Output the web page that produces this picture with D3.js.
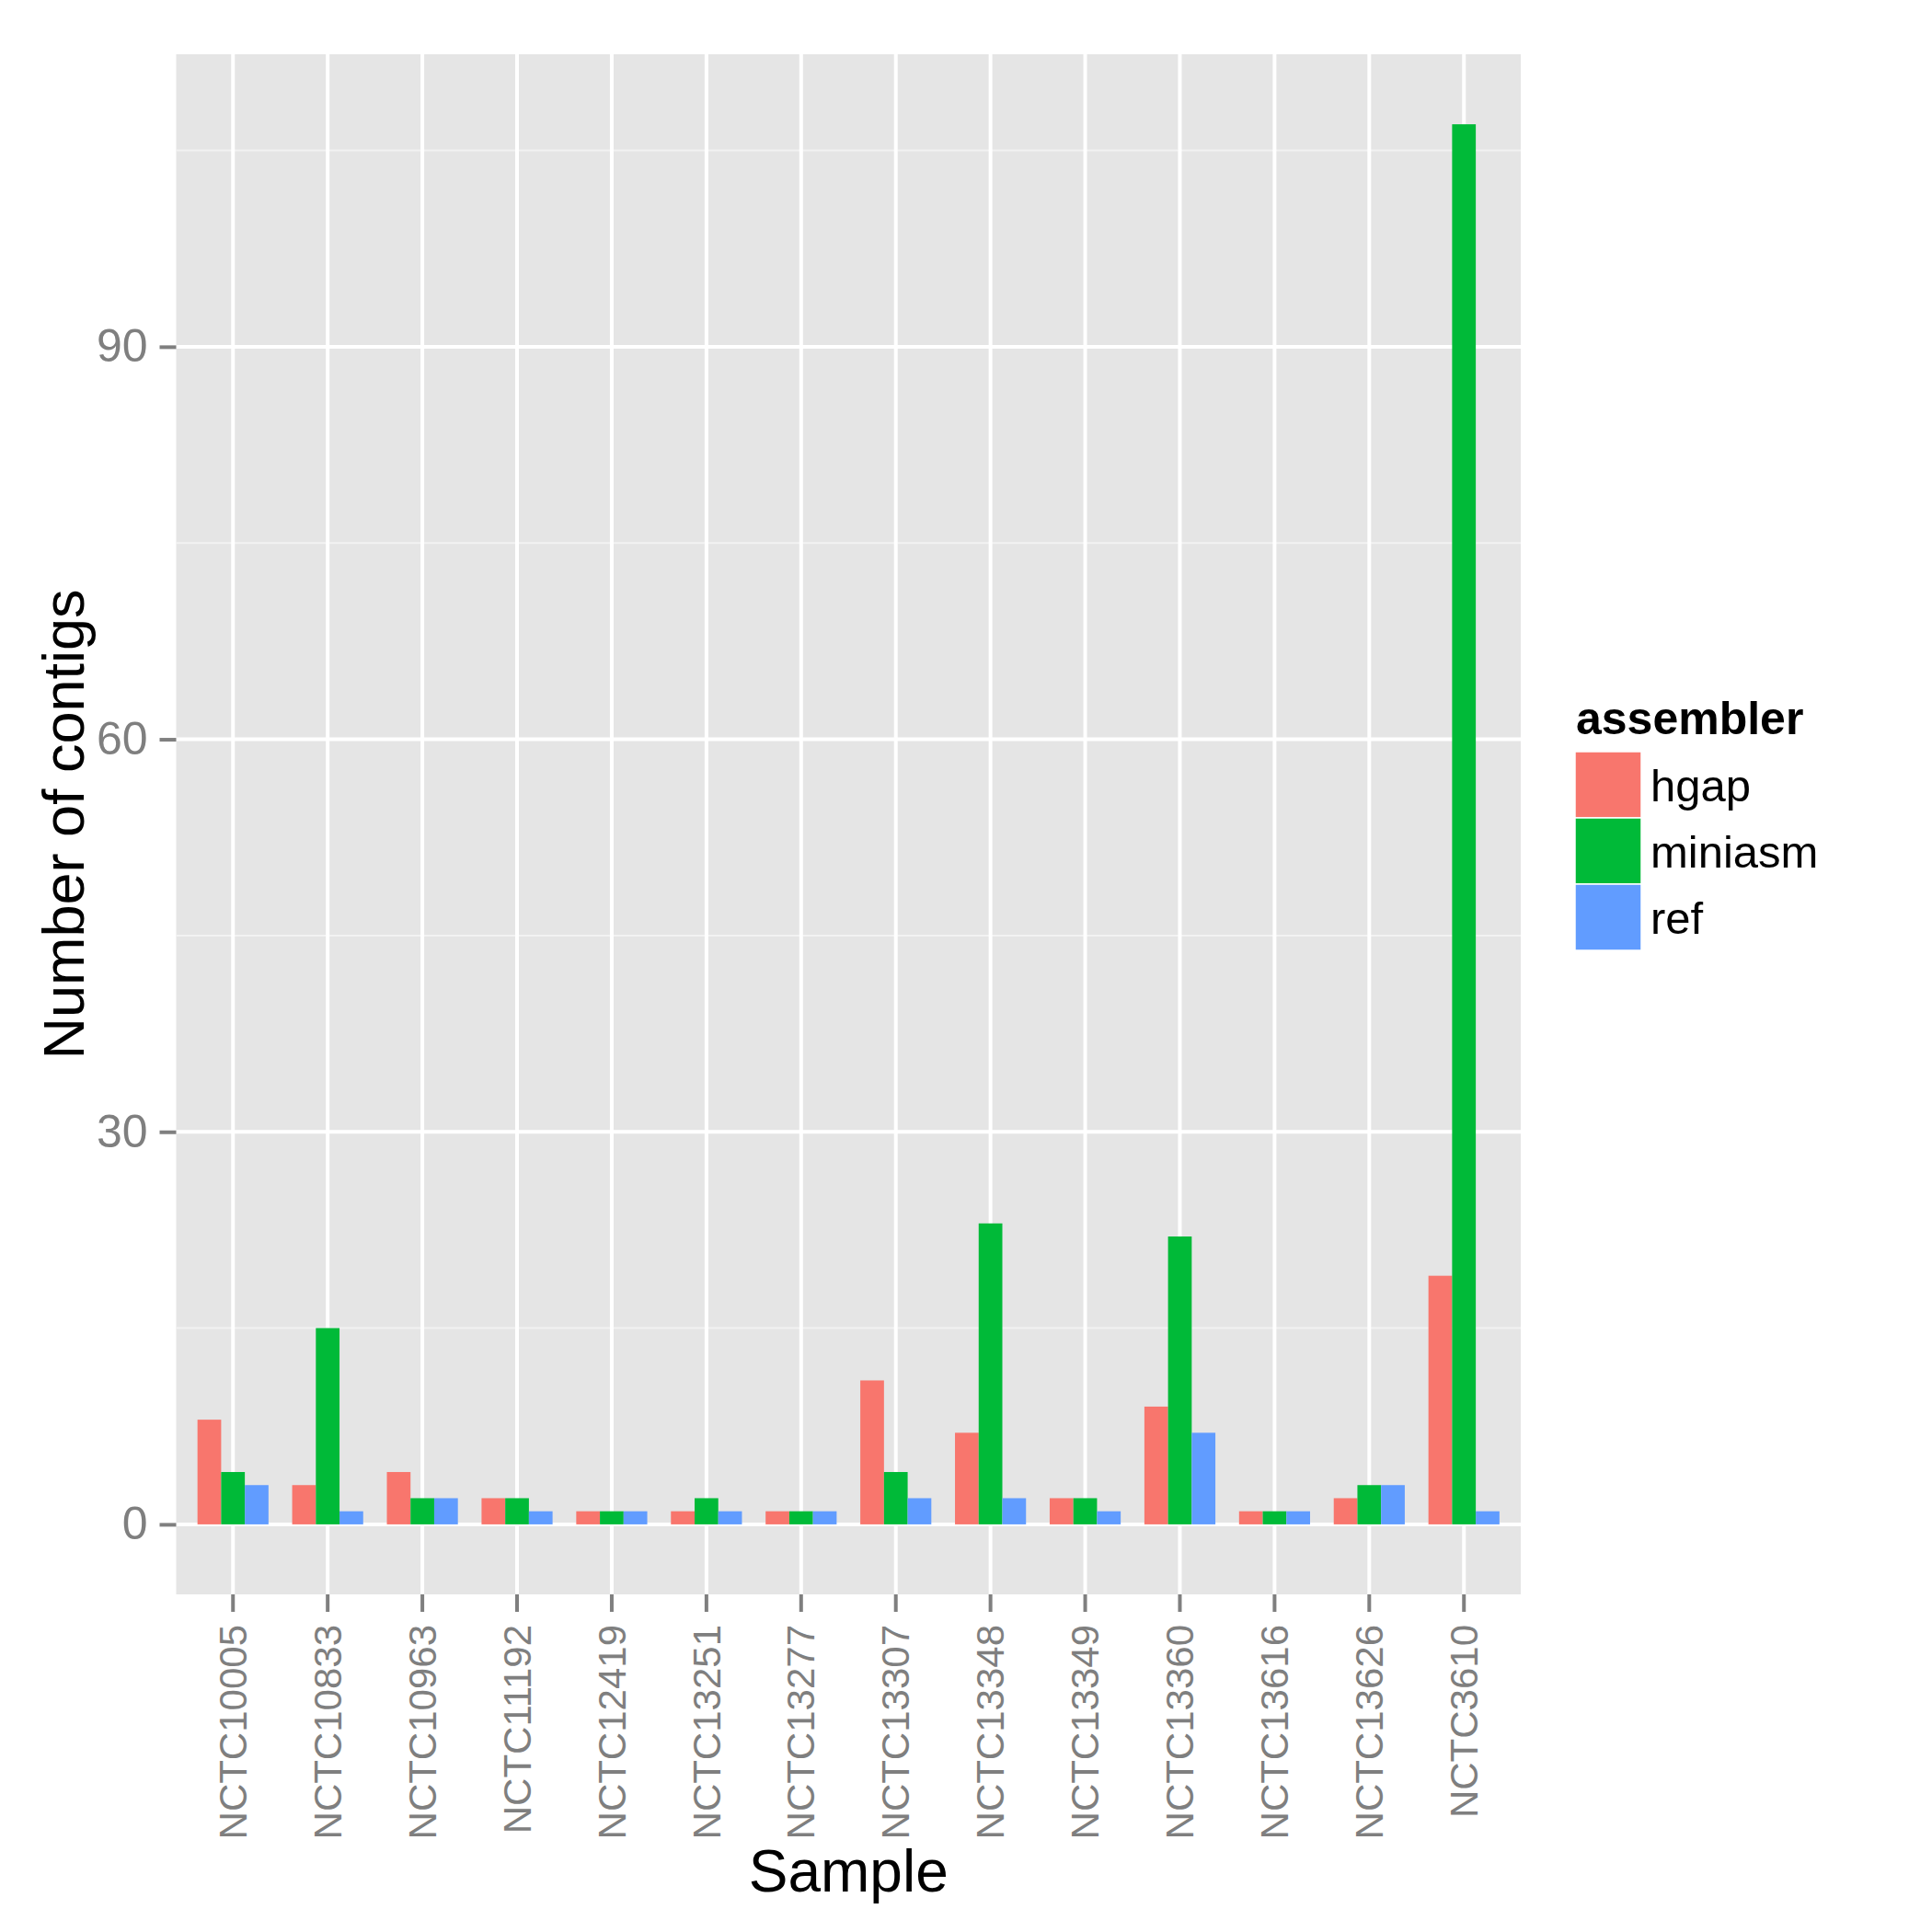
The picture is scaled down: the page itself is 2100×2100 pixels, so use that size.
<!DOCTYPE html>
<html>
<head>
<meta charset="utf-8">
<script src="https://cdn.jsdelivr.net/npm/d3@7"></script>
<style>
  body { margin: 0; background: #ffffff; }
  svg text { font-family: 'Liberation Sans', Arial, Helvetica, sans-serif; }
</style>
</head>
<body>
<div id="chart"></div>
<script>
// samples on the x axis
var samples = ['NCTC10005', 'NCTC10833', 'NCTC10963', 'NCTC11192', 'NCTC12419',
  'NCTC13251', 'NCTC13277', 'NCTC13307', 'NCTC13348', 'NCTC13349',
  'NCTC13360', 'NCTC13616', 'NCTC13626', 'NCTC3610'];

// assemblers (fill groups)
var assemblers = ['hgap', 'miniasm', 'ref'];
var colors = ['#F8766D', '#00BA38', '#619CFF'];

// number of contigs per sample, one array per assembler
var hgap =    [8, 3, 4, 2, 1, 1, 1, 11, 7, 2, 9, 1, 2, 19];
var miniasm = [4, 15, 2, 2, 1, 2, 1, 4, 23, 2, 22, 1, 3, 107];
var ref =     [3, 1, 2, 1, 1, 1, 1, 2, 2, 1, 7, 1, 3, 1];

var yTicks = [0, 30, 60, 90];
var yMinor = [15, 45, 75, 105];

var W = 2100, H = 2100;
var panel = { left: 191.5, right: 1653, top: 59, bottom: 1733 };

var series = { hgap: hgap, miniasm: miniasm, ref: ref };
var data = [];
samples.forEach(function (s, i) {
  assemblers.forEach(function (a) {
    data.push({ sample: s, assembler: a, value: series[a][i] });
  });
});

var svg = d3.select('#chart').append('svg')
  .attr('width', W)
  .attr('height', H);

// ggplot style expansion: 5% on the continuous axis, 0.6 units on the discrete one
var maxV = d3.max(data, function (d) { return d.value; });
var y = d3.scaleLinear()
  .domain([-0.05 * maxV, maxV * 1.05])
  .range([panel.bottom, panel.top]);

var x = d3.scaleBand()
  .domain(samples)
  .range([panel.left, panel.right])
  .paddingInner(0.25)
  .paddingOuter(0.225);

var xSub = d3.scaleBand()
  .domain(assemblers)
  .range([0, x.bandwidth()]);

var color = d3.scaleOrdinal().domain(assemblers).range(colors);

function cx(s) { return x(s) + x.bandwidth() / 2; }

// panel background
svg.append('rect')
  .attr('x', panel.left)
  .attr('y', panel.top)
  .attr('width', panel.right - panel.left)
  .attr('height', panel.bottom - panel.top)
  .attr('fill', '#E5E5E5');

// minor grid
svg.append('g').selectAll('line')
  .data(yMinor)
  .enter().append('line')
  .attr('x1', panel.left).attr('x2', panel.right)
  .attr('y1', function (d) { return y(d); })
  .attr('y2', function (d) { return y(d); })
  .attr('stroke', '#F2F2F2')
  .attr('stroke-width', 2);

// major grid
svg.append('g').selectAll('line')
  .data(yTicks)
  .enter().append('line')
  .attr('x1', panel.left).attr('x2', panel.right)
  .attr('y1', function (d) { return y(d); })
  .attr('y2', function (d) { return y(d); })
  .attr('stroke', '#ffffff')
  .attr('stroke-width', 4);

svg.append('g').selectAll('line')
  .data(samples)
  .enter().append('line')
  .attr('x1', cx).attr('x2', cx)
  .attr('y1', panel.top).attr('y2', panel.bottom)
  .attr('stroke', '#ffffff')
  .attr('stroke-width', 4);

// bars
svg.append('g').selectAll('rect')
  .data(data)
  .enter().append('rect')
  .attr('x', function (d) { return x(d.sample) + xSub(d.assembler); })
  .attr('width', xSub.bandwidth())
  .attr('y', function (d) { return y(d.value); })
  .attr('height', function (d) { return y(0) - y(d.value); })
  .attr('fill', function (d) { return color(d.assembler); });

// y axis
var yAxis = svg.append('g')
  .attr('transform', 'translate(' + panel.left + ',0)')
  .call(d3.axisLeft(y).tickValues(yTicks).tickSize(18).tickPadding(13));
yAxis.select('.domain').remove();
yAxis.selectAll('line').attr('stroke', '#7F7F7F').attr('stroke-width', 4);
yAxis.selectAll('text')
  .attr('fill', '#7F7F7F')
  .style('font-size', '50px');

// x axis
var xAxis = svg.append('g')
  .attr('transform', 'translate(0,' + panel.bottom + ')')
  .call(d3.axisBottom(x).tickSize(19));
xAxis.select('.domain').remove();
xAxis.selectAll('line').attr('stroke', '#7F7F7F').attr('stroke-width', 4);
xAxis.selectAll('text')
  .attr('fill', '#7F7F7F')
  .style('font-size', '42px')
  .style('text-anchor', 'end')
  .attr('transform', 'rotate(-90)')
  .attr('x', -33)
  .attr('y', 0)
  .attr('dy', '0.35em');

// axis titles
svg.append('text')
  .attr('x', (panel.left + panel.right) / 2)
  .attr('y', 2056)
  .attr('text-anchor', 'middle')
  .style('font-size', '64px')
  .text('Sample');

svg.append('text')
  .attr('transform', 'translate(91,' + (panel.top + panel.bottom) / 2 + ') rotate(-90)')
  .attr('text-anchor', 'middle')
  .style('font-size', '63px')
  .text('Number of contigs');

// legend
var legend = svg.append('g').attr('transform', 'translate(1712,0)');
legend.append('text')
  .attr('x', 1)
  .attr('y', 798)
  .style('font-size', '50px')
  .style('font-weight', 'bold')
  .text('assembler');

var keySize = 72, keyTop = 817;
var items = legend.selectAll('.item')
  .data(assemblers)
  .enter().append('g')
  .attr('transform', function (d, i) { return 'translate(0,' + (keyTop + i * keySize) + ')'; });

items.append('rect')
  .attr('width', keySize)
  .attr('height', keySize)
  .attr('fill', function (d) { return color(d); })
  .attr('stroke', '#ffffff')
  .attr('stroke-width', 1.5);

items.append('text')
  .attr('x', keySize + 10)
  .attr('y', keySize / 2 + 0.36 * 49)
  .style('font-size', '49px')
  .text(function (d) { return d; });
</script>
</body>
</html>
